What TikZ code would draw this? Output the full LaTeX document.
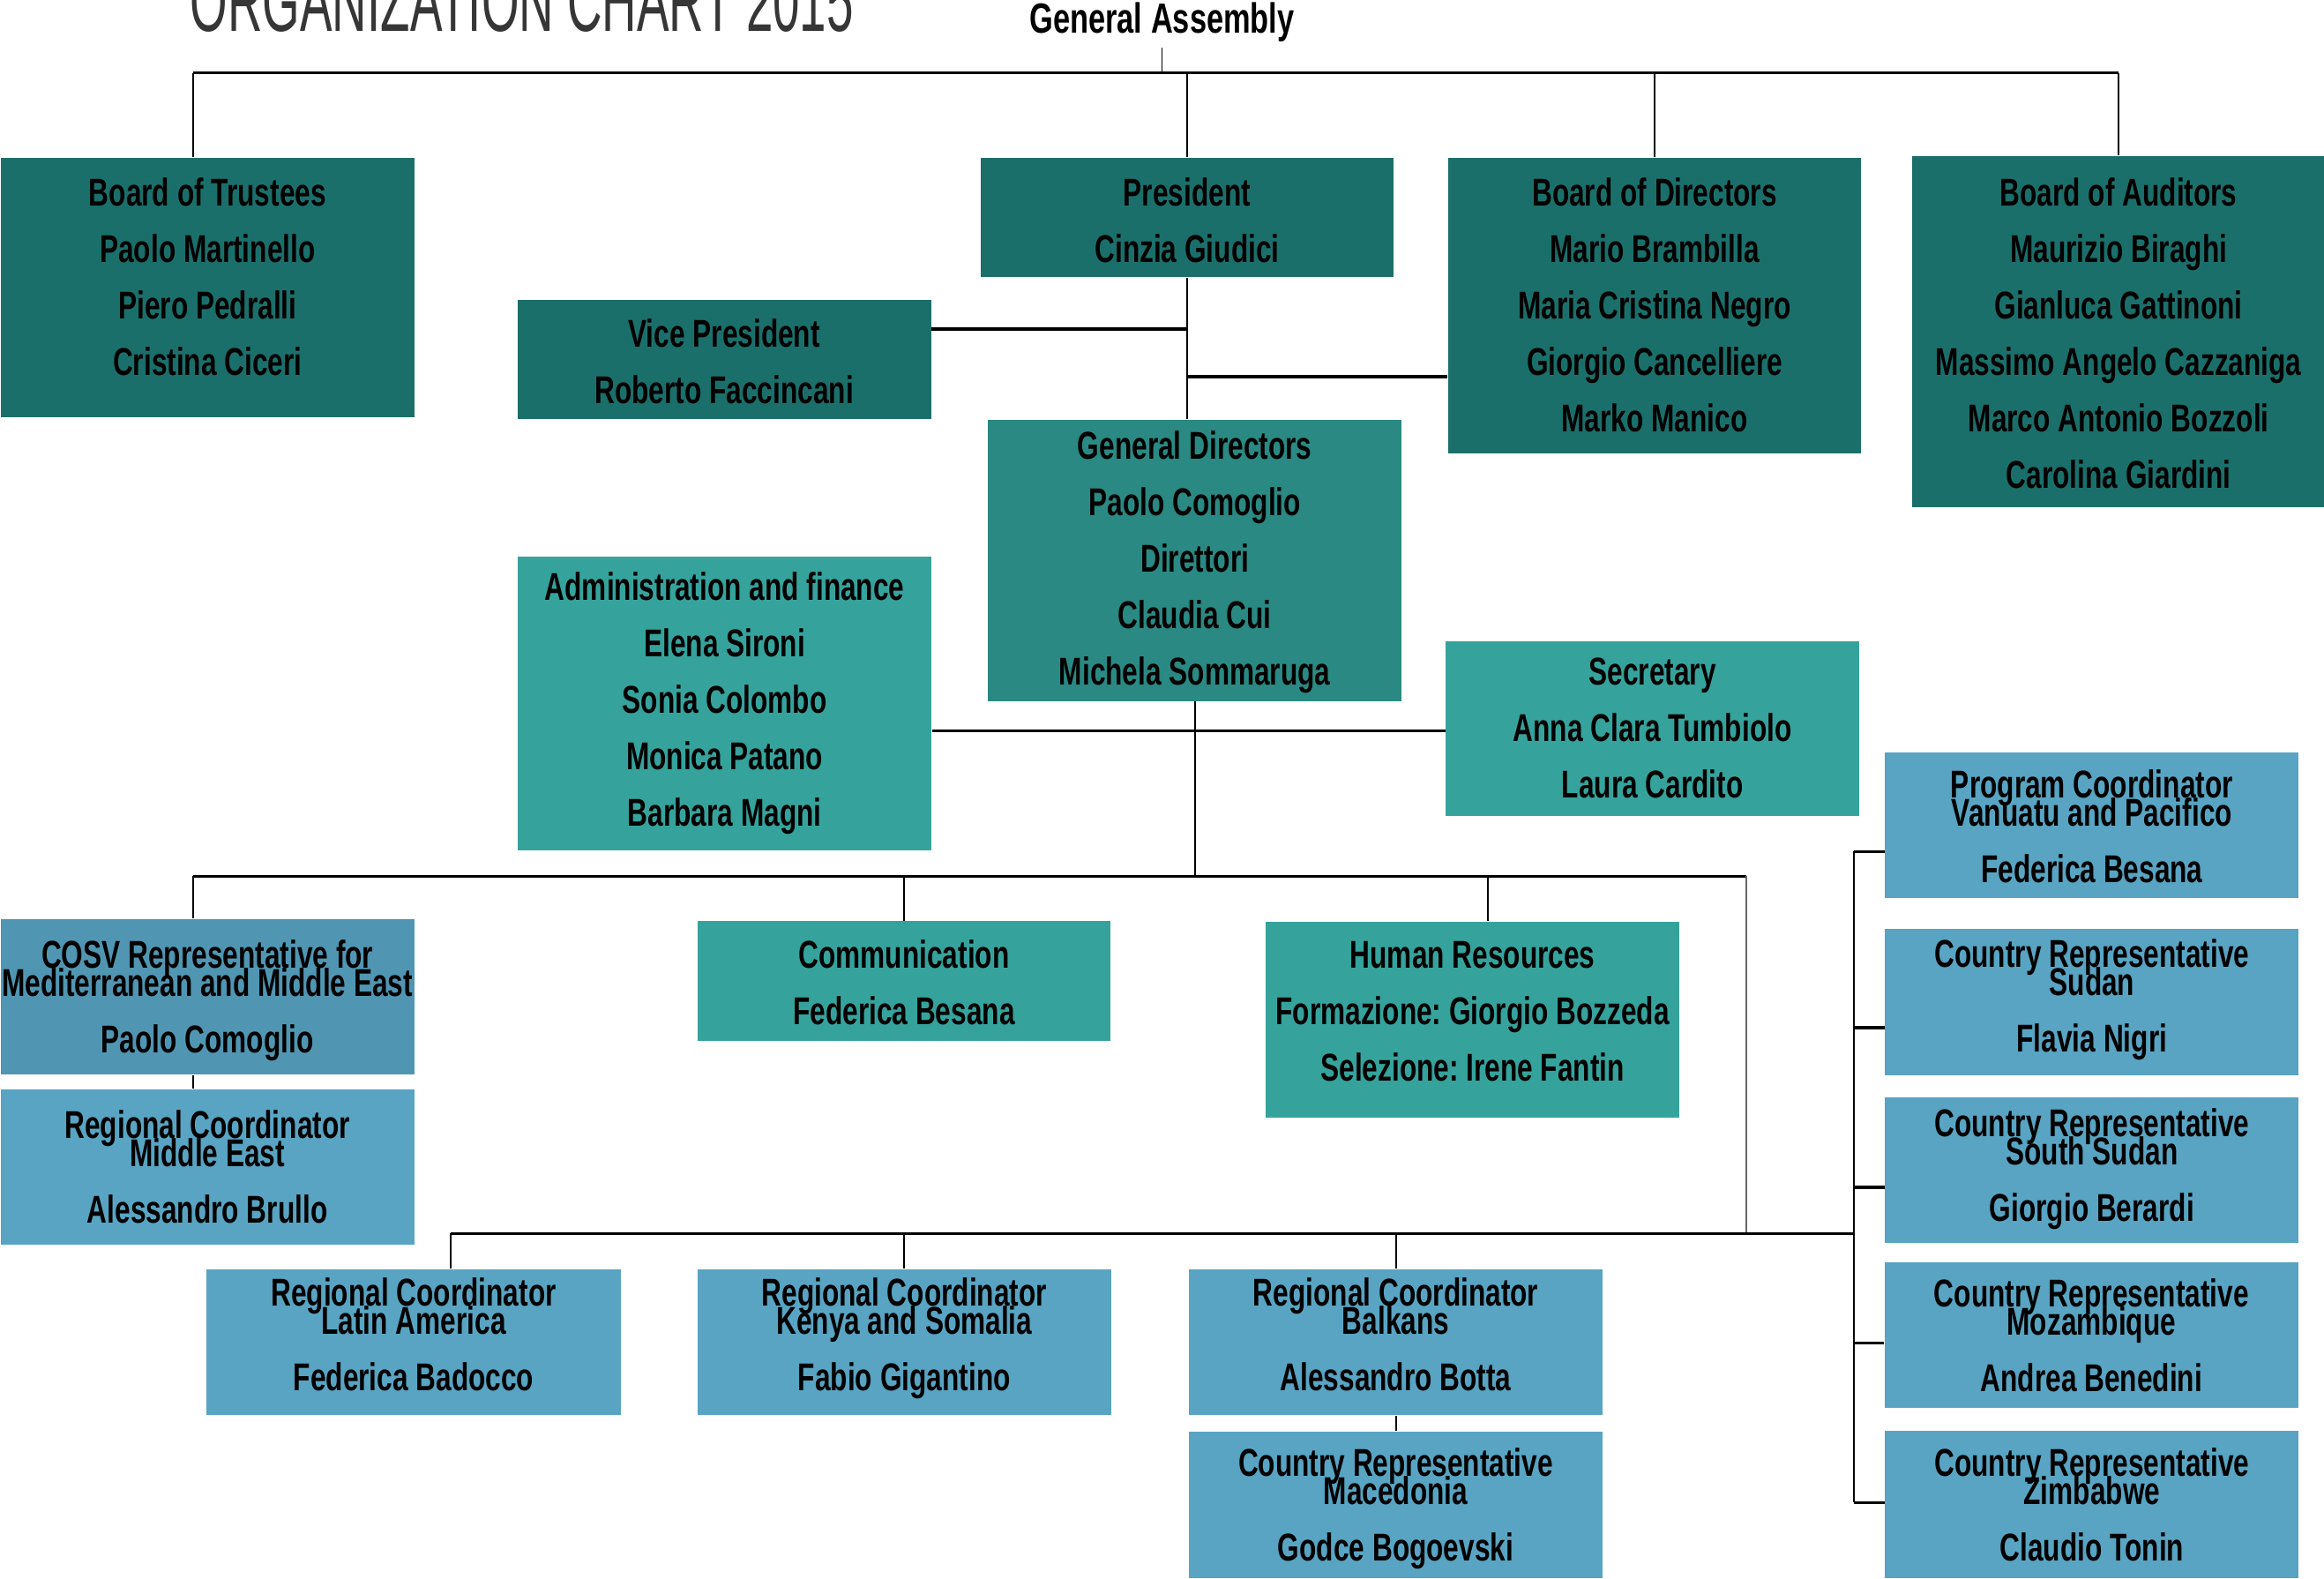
\documentclass[tikz,border=0pt]{standalone}
\usepackage{fontspec}
\newfontfamily\boxfont[FakeStretch=0.72]{Liberation Sans}
\newfontfamily\titlefont[FakeStretch=0.56]{Liberation Sans}
\usetikzlibrary{calc}

\definecolor{boardteal}{HTML}{1B6F6A}
\definecolor{gdteal}{HTML}{2A8982}
\definecolor{staffteal}{HTML}{35A39C}
\definecolor{cosvblue}{HTML}{5096B2}
\definecolor{fieldblue}{HTML}{58A4C2}
\definecolor{titlegray}{HTML}{363636}

\newlength\pu \setlength\pu{0.16805mm}
% width, height, first baseline, lines
\newcommand\boxtext[4]{\parbox[c][#2\pu][t]{#1\pu}{\centering\rule{0pt}{#3\pu}#4}}
\newcommand\tightbr{\\[-9.15pt]}

\begin{document}
\begin{tikzpicture}[x=0.16805mm, y=-0.16805mm,
  org/.style={fill=#1, inner sep=0pt, anchor=north west, text=black,
    font=\boxfont\bfseries\fontsize{12.5pt}{18.2pt}\selectfont\frenchspacing},
  wire/.style={draw=black, line width=0.55pt},
  bus/.style={draw=black, line width=0.95pt},
]
\fill[white] (0,0) rectangle (1568,1065);
\useasboundingbox (0,0) rectangle (1568,1065);

\node[anchor=base west, inner sep=0pt, text=titlegray, font=\titlefont\fontsize{27.8pt}{30pt}\selectfont] (title) at (128,21.4) {ORGANIZATION CHART 2015};
\node[anchor=base, inner sep=1.5pt, font=\boxfont\bfseries\fontsize{13.6pt}{15pt}\selectfont] (ga) at (784,22.6) {General Assembly};

% governance row
\node[org=boardteal] (trustees) at (0,105.9) {\boxtext{279.3}{175.4}{32.9}{Board of Trustees\\Paolo Martinello\\Piero Pedralli\\Cristina Ciceri}};
\node[org=boardteal] (president) at (661,105.9) {\boxtext{279}{80.8}{32.9}{President\\Cinzia Giudici}};
\node[org=boardteal] (directors) at (976.7,105.9) {\boxtext{278.5}{199.8}{32.9}{Board of Directors\\Mario Brambilla\\Maria Cristina Negro\\Giorgio Cancelliere\\Marko Manico}};
\node[org=boardteal] (auditors) at (1289.5,104.7) {\boxtext{279}{237.1}{34.1}{Board of Auditors\\Maurizio Biraghi\\Gianluca Gattinoni\\Massimo Angelo Cazzaniga\\Marco Antonio Bozzoli\\Carolina Giardini}};
\node[org=boardteal] (vp) at (348.6,201.7) {\boxtext{279.2}{80.8}{32}{Vice President\\Roberto Faccincani}};
\node[org=gdteal] (gd) at (666.2,282.7) {\boxtext{279}{189.8}{26.7}{General Directors\\Paolo Comoglio\\Direttori\\Claudia Cui\\Michela Sommaruga}};
\node[org=staffteal] (admin) at (349,375) {\boxtext{279}{198.5}{29.5}{Administration and finance\\Elena Sironi\\Sonia Colombo\\Monica Patano\\Barbara Magni}};
\node[org=staffteal] (secretary) at (975,432) {\boxtext{279}{118}{29.5}{Secretary\\Anna Clara Tumbiolo\\Laura Cardito}};

% staff row
\node[org=cosvblue] (cosv) at (0,619.5) {\boxtext{279}{105.1}{33.1}{COSV Representative for\tightbr Mediterranean and Middle East\\Paolo Comoglio}};
\node[org=fieldblue] (rcme) at (0,734.3) {\boxtext{279}{105.1}{33.3}{Regional Coordinator\tightbr Middle East\\Alessandro Brullo}};
\node[org=staffteal] (comm) at (470,621) {\boxtext{279}{81}{31.6}{Communication\\Federica Besana}};
\node[org=staffteal] (hr) at (853.6,621.3) {\boxtext{279}{132.3}{31.3}{Human Resources\\Formazione: Giorgio Bozzeda\\Selezione: Irene Fantin}};

% field offices
\node[org=fieldblue] (latam) at (139,855.7) {\boxtext{279.4}{98.6}{25}{Regional Coordinator\tightbr Latin America\\Federica Badocco}};
\node[org=fieldblue] (kenya) at (470,855.7) {\boxtext{279.4}{98.6}{25}{Regional Coordinator\tightbr Kenya and Somalia\\Fabio Gigantino}};
\node[org=fieldblue] (balkans) at (801.6,855.7) {\boxtext{279.4}{98.6}{25}{Regional Coordinator\tightbr Balkans\\Alessandro Botta}};
\node[org=fieldblue] (macedonia) at (801.6,965.2) {\boxtext{279.4}{99}{30.5}{Country Representative\tightbr Macedonia\\Godce Bogoevski}};
\node[org=fieldblue] (program) at (1271.5,507) {\boxtext{279}{98.6}{31}{Program Coordinator\tightbr Vanuatu and Pacifico\\Federica Besana}};
\node[org=fieldblue] (sudan) at (1271.5,626) {\boxtext{279}{99}{26}{Country Representative\tightbr Sudan\\Flavia Nigri}};
\node[org=fieldblue] (ssudan) at (1271.5,740) {\boxtext{279}{98}{26.5}{Country Representative\tightbr South Sudan\\Giorgio Berardi}};
\node[org=fieldblue] (mozambique) at (1271.2,851) {\boxtext{279}{98.5}{30.3}{Country Representative\tightbr Mozambique\\Andrea Benedini}};
\node[org=fieldblue] (zimbabwe) at (1271.5,965) {\boxtext{279}{99}{30.7}{Country Representative\tightbr Zimbabwe\\Claudio Tonin}};

% off-centre drop points
\coordinate (trustees-top) at ([xshift=-9.5\pu]trustees.north);
\coordinate (cosv-top) at ([xshift=-9.5\pu]cosv.north);
\coordinate (hr-top) at ([xshift=10.5\pu]hr.north);
\coordinate (latam-top) at ([xshift=25\pu]latam.north);
\coordinate (topbus) at (784,49.2);
\coordinate (staffbus) at (gd.south |- 0,591);
\coordinate (bend) at (1178,591);
\coordinate (fieldbus) at (1251,832);

\draw[wire] (ga.south) -- (topbus);
\draw[bus] (trustees-top |- topbus) -- (auditors.north |- topbus);
\draw[wire] (trustees-top) -- (trustees-top |- topbus);
\foreach \n in {president,directors,auditors}
  \draw[wire] (\n.north) -- (\n.north |- topbus);

\draw[wire] (president.south) -- (president.south |- gd.north);
\draw[bus] (vp.east |- 0,222) -- (president.south |- 0,222);
\draw[bus] (president.south |- 0,254) -- (directors.west |- 0,254);
\draw[wire] (gd.south) -- (staffbus);
\draw[bus] (admin.east |- 0,493) -- (secretary.west |- 0,493);

\draw[bus] (cosv-top |- staffbus) -- (bend);
\draw[wire, draw=black!60] (bend) -- (bend |- fieldbus);
\draw[wire] (cosv-top) -- (cosv-top |- staffbus);
\draw[wire] (comm.north) -- (comm.north |- staffbus);
\draw[wire] (hr-top) -- (hr-top |- staffbus);
\draw[wire] (cosv-top |- cosv.south) -- (cosv-top |- rcme.north);

\draw[bus] (latam-top |- fieldbus) -- (fieldbus);
\draw[wire] (latam-top) -- (latam-top |- fieldbus);
\foreach \n in {kenya,balkans}
  \draw[wire] (\n.north) -- (\n.north |- fieldbus);
\draw[wire] (balkans.south) -- (macedonia.north);

\draw[wire] (fieldbus |- 0,574.4) -- (fieldbus |- 0,1013.6);
\foreach \n/\y in {program/574.4,sudan/693.3,ssudan/801,mozambique/905.9,zimbabwe/1013.6}
  \draw[bus] (fieldbus |- 0,\y) -- (\n.west |- 0,\y);
\end{tikzpicture}
\end{document}
